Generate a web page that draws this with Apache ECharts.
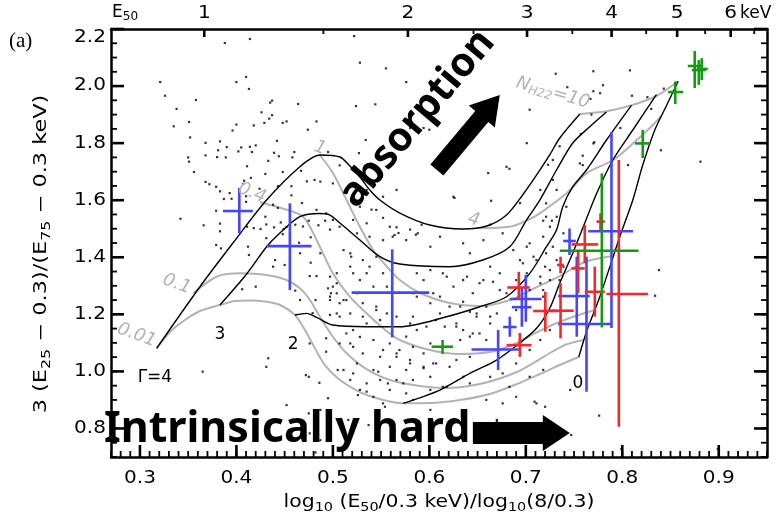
<!DOCTYPE html>
<html>
<head>
<meta charset="utf-8">
<script src="https://cdn.jsdelivr.net/npm/echarts@6/dist/echarts.min.js"></script>
<style>
html,body{margin:0;padding:0;background:#fff;}
#c{width:777px;height:517px;}
</style>
</head>
<body>
<div id="c"></div>
<script>
// Bottom axis: log10(E50/0.3 keV)/log10(8/0.3); left axis: quartile ratio.
const xMajorTicks = [0.3, 0.4, 0.5, 0.6, 0.7, 0.8, 0.9];
const yMajorTicks = [0.8, 1.0, 1.2, 1.4, 1.6, 1.8, 2.0, 2.2];
const keVMajorTicks = [1, 2, 3, 4, 5, 6];
const keVMinorTicks = [1.5, 2.5, 3.5, 4.5, 5.5, 6.5];

// Model grid, constant photon index (black)
const gamma4 = [[0.3173,1.0808],[0.3622,1.2967],[0.3964,1.4499],[0.4313,1.6006],[0.4658,1.7174],[0.4865,1.7584],[0.5073,1.7514],[0.5176,1.7198],[0.528,1.6813],[0.5383,1.6357],[0.5487,1.6006],[0.5694,1.5551],[0.6005,1.513],[0.6347,1.499],[0.6596,1.5095],[0.6803,1.5491],[0.6969,1.6192],[0.7114,1.6893],[0.7249,1.7594],[0.7352,1.8179],[0.756,1.9021]];
const gamma3 = [[0.3829,1.2326],[0.4106,1.3413],[0.4313,1.4369],[0.4451,1.485],[0.4658,1.5421],[0.4865,1.5533],[0.4969,1.5481],[0.5073,1.52],[0.528,1.4604],[0.5487,1.4019],[0.5694,1.3763],[0.6212,1.3669],[0.6554,1.3903],[0.6834,1.4369],[0.7007,1.5305],[0.7145,1.6006],[0.7318,1.7058],[0.7487,1.8004],[0.7663,1.8576],[0.7836,1.9091]];
const gamma2 = [[0.4606,1.1975],[0.4727,1.2035],[0.4831,1.1895],[0.5,1.1625],[0.5349,1.1565],[0.5694,1.1565],[0.6178,1.1916],[0.6523,1.2267],[0.68,1.2617],[0.7041,1.3437],[0.7214,1.4369],[0.7318,1.4955],[0.7383,1.5771],[0.7487,1.6473],[0.7629,1.7058],[0.7836,1.8109],[0.8095,1.9326]];
const gamma1 = [[0.5728,0.8881],[0.6109,0.9347],[0.642,0.9932],[0.6696,1.0398],[0.6938,1.0995],[0.7114,1.152],[0.7249,1.2221],[0.7352,1.3097],[0.7487,1.4149],[0.7611,1.52],[0.7736,1.6252],[0.7902,1.7408],[0.8109,1.846],[0.8354,1.9697]];
const gamma0 = [[0.7549,1.0503],[0.7629,1.139],[0.7767,1.2617],[0.7974,1.472],[0.8109,1.6006],[0.8212,1.7233],[0.8337,1.846],[0.8461,1.9336],[0.8578,2.0167]];

// Model grid, constant column density N_H / 1e22 (grey)
const nh001 = [[0.3173,1.0808],[0.3311,1.138],[0.3466,1.18],[0.3622,1.2116],[0.3829,1.2326],[0.3984,1.2466],[0.414,1.2484],[0.4295,1.2448],[0.4451,1.2326],[0.4606,1.1975],[0.471,1.145],[0.4813,1.082],[0.4917,1.0223],[0.5073,0.9698],[0.528,0.9277],[0.5487,0.9031],[0.5728,0.8881],[0.6005,0.8891],[0.6316,0.8996],[0.6627,0.9207],[0.6907,0.9557],[0.7145,0.9908],[0.7352,1.0223],[0.7549,1.0503]];
const nh01 = [[0.3552,1.2736],[0.3795,1.3318],[0.4036,1.3437],[0.4313,1.3378],[0.452,1.3202],[0.4658,1.2911],[0.4762,1.2501],[0.4865,1.1916],[0.5,1.1215],[0.5142,1.0633],[0.5332,1.0118],[0.5591,0.9698],[0.5902,0.9487],[0.6161,0.9417],[0.6523,0.9557],[0.6907,0.9978],[0.7197,1.0538],[0.7404,1.0925],[0.7601,1.11]];
const nh04 = [[0.4244,1.5936],[0.4417,1.5771],[0.4589,1.5596],[0.4692,1.5421],[0.4762,1.507],[0.4865,1.4369],[0.5,1.3437],[0.5176,1.2617],[0.5349,1.2035],[0.5518,1.152],[0.5694,1.11],[0.6005,1.0749],[0.6316,1.0609],[0.6627,1.0679],[0.6834,1.0889],[0.7041,1.124],[0.7249,1.159],[0.7456,1.187],[0.7715,1.2151]];
const nh1 = [[0.4865,1.7584],[0.5,1.6953],[0.5142,1.6006],[0.528,1.507],[0.5418,1.4254],[0.5591,1.3553],[0.5694,1.3202],[0.5902,1.2747],[0.6212,1.2396],[0.6523,1.2291],[0.6834,1.2501],[0.7093,1.2922],[0.7352,1.3343],[0.7611,1.3833],[0.7902,1.4044]];
const nh4 = [[0.6503,1.5025],[0.6834,1.507],[0.7021,1.5305],[0.7145,1.554],[0.7422,1.6241],[0.7629,1.6942],[0.7905,1.7408],[0.8112,1.7994],[0.8285,1.853],[0.8406,1.8951]];
const nh10 = [[0.756,1.9021],[0.7836,1.9115],[0.8095,1.9326],[0.8354,1.9652],[0.8578,2.0167]];

// Field sources
const fieldSources = [
[0.388,2.151],[0.414,2.165],[0.321,2.014],[0.400,2.014],[0.410,2.032],[0.413,1.990],[0.326,1.966],[0.358,1.951],[0.338,1.920],[0.437,1.949],[0.435,1.942],[0.464,1.937],[0.426,1.908],[0.437,1.898],[0.335,1.859],[0.351,1.874],[0.400,1.865],[0.418,1.862],[0.429,1.871],[0.434,1.886],[0.448,1.871],[0.452,1.876],[0.483,1.876],[0.474,1.847],[0.396,1.844],[0.352,1.820],[0.383,1.806],[0.368,1.801],[0.442,1.808],[0.390,1.786],[0.405,1.785],[0.414,1.787],[0.420,1.792],[0.381,1.775],[0.402,1.771],[0.416,1.769],[0.439,1.766],[0.444,1.754],[0.460,1.769],[0.368,1.757],[0.350,1.750],[0.380,1.751],[0.389,1.750],[0.351,1.735],[0.433,1.738],[0.458,1.750],[0.495,1.769],[0.356,1.699],[0.411,1.719],[0.430,1.692],[0.448,1.699],[0.467,1.703],[0.473,1.666],[0.481,1.671],[0.368,1.664],[0.372,1.656],[0.379,1.647],[0.383,1.631],[0.408,1.668],[0.415,1.678],[0.407,1.657],[0.424,1.640],[0.457,1.649],[0.443,1.649],[0.393,1.625],[0.395,1.605],[0.410,1.594],[0.387,1.604],[0.379,1.563],[0.410,1.614],[0.457,1.617],[0.468,1.590],[0.342,1.535],[0.366,1.512],[0.383,1.518],[0.383,1.491],[0.411,1.507],[0.418,1.502],[0.425,1.499],[0.431,1.515],[0.439,1.505],[0.449,1.499],[0.446,1.522],[0.452,1.506],[0.461,1.514],[0.469,1.508],[0.475,1.528],[0.485,1.512],[0.492,1.528],[0.497,1.497],[0.477,1.470],[0.448,1.481],[0.430,1.542],[0.438,1.584],[0.443,1.573],[0.431,1.467],[0.507,1.722],
[0.522,2.175],[0.528,2.082],[0.555,2.062],[0.524,1.930],[0.544,1.936],
[0.576,2.014],[0.580,1.853],[0.594,1.853],[0.600,1.847],[0.534,1.811],[0.564,1.839],[0.527,1.765],[0.549,1.750],[0.704,1.917],[0.701,1.800],[0.661,1.695],[0.683,1.710],[0.626,1.608],[0.664,1.598],[0.694,1.590],[0.540,1.567],[0.552,1.538],[0.566,1.505],[0.580,1.497],[0.592,1.514],[0.568,1.485],[0.586,1.479],[0.663,1.514],[0.723,1.724],[0.718,1.528],[0.727,1.528],
[0.731,2.043],[0.770,2.052],[0.808,2.055],[0.743,1.996],[0.770,1.982],[0.780,2.003],[0.767,1.955],[0.810,1.966],[0.826,1.961],[0.843,1.991],[0.768,1.900],[0.830,1.920],[0.757,1.832],[0.798,1.853],[0.771,1.803],[0.735,1.789],[0.759,1.756],[0.840,1.775],
[0.881,1.735],[0.838,1.355],[0.834,1.265],[0.776,0.845],[0.747,0.777],[0.720,0.876],[0.799,0.728],[0.899,0.728],[0.759,1.723],[0.806,1.723],
[0.379,1.443],[0.384,1.431],[0.412,1.437],[0.413,1.408],[0.440,1.390],[0.438,1.367],[0.450,1.373],[0.465,1.451],[0.466,1.414],[0.477,1.381],[0.487,1.414],[0.476,1.334],[0.483,1.334],[0.495,1.291],[0.498,1.274],[0.497,1.250],[0.507,1.239],[0.406,1.288],[0.420,1.297],[0.461,1.283],[0.466,1.250],[0.482,1.250],[0.497,1.198],[0.479,1.204],[0.493,1.116],[0.476,1.098],[0.493,1.069],[0.433,1.046],[0.431,1.016],[0.365,0.999],[0.472,0.987],[0.475,0.981],[0.486,0.960],[0.495,0.906],[0.452,0.882],[0.475,0.853],[0.487,0.865],[0.482,0.716],[0.504,1.309],
[0.487,1.665],[0.483,1.566],[0.493,1.554],[0.500,1.531],[0.507,1.507],[0.521,1.531],[0.535,1.519],[0.525,1.484],[0.538,1.472],[0.552,1.460],[0.562,1.472],[0.518,1.414],[0.531,1.390],[0.545,1.402],[0.521,1.344],[0.535,1.344],[0.542,1.297],[0.556,1.297],[0.500,1.297],[0.511,1.250],[0.497,1.262],[0.504,1.203],[0.518,1.203],[0.531,1.192],[0.545,1.227],[0.556,1.203],[0.497,1.332],[0.514,1.133],[0.528,1.121],[0.542,1.110],[0.559,1.098],[0.507,1.098],[0.521,1.086],[0.552,1.075],[0.566,1.063],[0.500,1.659],[0.535,1.636],[0.552,1.612],[0.566,1.636],[0.528,1.577],[0.545,1.566],[0.559,1.507],
[0.511,1.425],[0.519,1.402],[0.564,1.478],[0.576,1.460],[0.588,1.484],[0.601,1.437],[0.611,1.472],[0.635,1.449],[0.642,1.414],[0.656,1.460],[0.676,1.484],[0.687,1.425],[0.704,1.449],[0.711,1.390],[0.720,1.367],[0.697,1.379],[0.538,1.367],[0.552,1.344],[0.587,1.344],[0.601,1.355],[0.618,1.332],[0.635,1.320],[0.652,1.309],[0.666,1.314],[0.673,1.285],[0.528,1.320],[0.504,1.274],[0.514,1.250],[0.531,1.239],[0.545,1.215],[0.587,1.262],[0.601,1.239],[0.611,1.262],[0.621,1.227],[0.635,1.244],[0.642,1.209],[0.649,1.192],[0.659,1.227],[0.663,1.192],[0.670,1.203],[0.507,1.192],[0.521,1.145],[0.535,1.168],[0.549,1.180],[0.566,1.192],[0.580,1.168],[0.587,1.145],[0.576,1.122],[0.597,1.157],[0.607,1.180],[0.616,1.157],[0.628,1.168],[0.635,1.145],[0.642,1.122],[0.652,1.133],[0.659,1.110],[0.632,1.110],[0.518,1.098],[0.569,1.075],[0.583,1.086],[0.594,1.063],[0.601,1.098],[0.580,1.040],[0.566,1.051],[0.549,1.051],[0.531,1.063],[0.525,1.028],[0.542,1.005],[0.559,1.016],[0.576,1.005],[0.594,1.016],[0.607,1.028],[0.628,1.040],[0.642,1.051],[0.621,1.016],[0.635,0.981],[0.601,0.981],[0.583,0.970],[0.566,0.970],[0.549,0.970],[0.535,0.958],[0.559,0.935],[0.576,0.923],[0.601,0.935],[0.618,0.946],[0.642,0.958],[0.663,0.981],[0.676,0.993],[0.690,1.028],[0.704,1.075],[0.715,1.110],[0.725,1.145],[0.683,0.946],[0.704,0.981],[0.718,1.005],[0.676,0.888],[0.690,0.911],[0.711,0.888],[0.670,0.830],[0.552,0.888],[0.542,0.911],[0.528,0.935],[0.518,0.970],[0.505,1.005],[0.504,1.344],[0.518,1.367],[0.525,1.274],[0.715,1.309],[0.725,1.320],[0.718,1.262],[0.704,1.285],[0.690,1.215],
[0.721,1.542],[0.732,1.542],[0.725,1.507],[0.739,1.484],[0.718,1.472],[0.728,1.437],[0.721,1.414],[0.732,1.390],[0.739,1.367],[0.725,1.355],[0.715,1.332],[0.735,1.320],[0.718,1.285],[0.701,1.437],[0.694,1.390],[0.708,1.402],[0.701,1.344],[0.690,1.320],[0.680,1.274],[0.673,1.344],[0.663,1.367],[0.656,1.320],[0.645,1.274],[0.639,1.332],[0.625,1.297],[0.614,1.344],[0.604,1.274],[0.594,1.320],[0.583,1.274],[0.632,1.227],[0.649,1.203],[0.663,1.168],[0.645,1.133],[0.628,1.157],[0.611,1.203],[0.583,1.192],[0.728,1.671],[0.756,1.729],[0.715,1.636],[0.721,1.589],[0.732,1.636],[0.742,1.577],[0.680,1.717],[0.728,1.741],[0.770,1.799],[0.777,1.975],[0.625,1.612],
[0.511,1.005],[0.521,0.993],[0.526,0.917],[0.535,0.929],[0.547,0.999],[0.557,0.958],[0.554,0.876],[0.487,0.759],[0.516,0.830],[0.537,0.812],[0.476,0.783],[0.580,1.028],[0.604,1.028],[0.594,1.011],[0.573,0.958],[0.614,0.946],[0.601,0.865],[0.670,0.824],[0.659,0.900],[0.583,0.900],[0.746,0.935],[0.709,0.894]
];

// Targets with errors: [x, y, xLow, xHigh, yLow, yHigh]
const blueTargets = [
[0.403,1.562,0.386,0.417,1.485,1.643],
[0.4554,1.439,0.4313,0.4779,1.285,1.589],
[0.5615,1.276,0.5194,0.5998,1.119,1.428],
[0.6713,1.077,0.6437,0.6938,1.005,1.145],
[0.6834,1.1555,0.6765,0.6904,1.1215,1.1916],
[0.6959,1.225,0.6855,0.7059,1.1565,1.292],
[0.70,1.254,0.6834,0.7163,1.174,1.338],
[0.7453,1.457,0.7387,0.7518,1.408,1.501],
[0.7528,1.264,0.7335,0.7663,1.1215,1.402],
[0.7629,1.166,0.7335,0.7888,0.9287,1.402],
[0.7888,1.491,0.7646,0.8112,1.152,1.839]
];
const redTargets = [
[0.6927,1.294,0.6808,0.7041,1.25,1.349],
[0.7202,1.2116,0.7076,0.7332,1.139,1.279],
[0.736,1.2127,0.7228,0.7497,1.116,1.309],
[0.6938,1.092,0.68,0.7059,1.051,1.1345],
[0.736,1.373,0.7324,0.7394,1.344,1.402],
[0.7542,1.361,0.7474,0.7611,1.274,1.425],
[0.7611,1.445,0.7474,0.7749,1.379,1.513],
[0.7774,1.525,0.7733,0.7819,1.4955,1.554],
[0.7715,1.279,0.7611,0.7819,1.1916,1.367],
[0.7964,1.271,0.7836,0.8267,0.806,1.741]
];
const greenTargets = [
[0.6137,1.0864,0.6023,0.6247,1.061,1.11],
[0.7788,1.423,0.7352,0.8168,1.154,1.694],
[0.8212,1.799,0.813,0.8285,1.748,1.846],
[0.8549,1.979,0.8475,0.863,1.937,2.016],
[0.8751,2.0703,0.8679,0.8834,1.993,2.123],
[0.8793,2.056,0.872,0.8865,2.004,2.091],
[0.8824,2.06,0.8772,0.8886,2.021,2.098]
];

const FONT = '"DejaVu Sans"';
const INK = '#000';
const GREY = '#b3b3b3';
const WIDE = 1.18;            // horizontal stretch of the axis lettering
const E_LO = 0.3, E_HI = 8.0;
const toAxis = e => Math.log10(e / E_LO) / Math.log10(E_HI / E_LO);
const fromAxis = v => E_LO * Math.pow(E_HI / E_LO, v);

const X_MIN = 0.27, X_MAX = 0.95, Y_MIN = 0.7, Y_MAX = 2.2;
const xMinor = [], yMinor = [];
for (let i = 27; i <= 95; i++) xMinor.push(+(i / 100).toFixed(2));
for (let i = 14; i <= 44; i++) yMinor.push(+(i * 0.05).toFixed(2));

// Tick sets: [values, side, length, thickness]
const tickSets = [
  [xMajorTicks, 'bottom', 12, 2.6], [xMinor, 'bottom', 6, 1.8],
  [keVMajorTicks.map(toAxis), 'top', 8, 2.6], [keVMinorTicks.map(toAxis), 'top', 5, 1.8],
  [yMajorTicks, 'left', 13, 2.6], [yMinor, 'left', 6, 1.8],
  [yMajorTicks, 'right', 13, 2.6], [yMinor, 'right', 6, 1.8]
];

// Text placed on the grid
const gridNotes = [
  { t: 'Γ=4', at: [0.3155, 0.977], kind: 'ink' },
  { t: '3', at: [0.3829, 1.1274], kind: 'ink' },
  { t: '2', at: [0.4589, 1.0924], kind: 'ink' },
  { t: '0', at: [0.7539, 0.9557], kind: 'ink' },
  { t: '0.01', at: [0.2965, 1.127], kind: 'grey', rot: -20 },
  { t: '0.1', at: [0.3383, 1.3062], kind: 'grey', rot: -20 },
  { t: '0.4', at: [0.4161, 1.6252], kind: 'grey', rot: -22 },
  { t: '1', at: [0.4865, 1.7829], kind: 'grey', rot: -20 },
  { t: '4', at: [0.6461, 1.5305], kind: 'grey', rot: -15 },
  { t: 'N{s|H22}=10', at: [0.728, 1.9757], kind: 'grey', rot: -16 },
  { t: 'absorption', at: [0.5875, 1.886], kind: 'big', rot: 50 },
  { t: 'Intrinsically hard', at: [0.2627, 0.7945], kind: 'bigLeft' }
];
const arrows = [
  { from: [0.6078, 1.7058], to: [0.673, 1.9687], shaft: 17, head: 34, headLen: 28 },
  { from: [0.6451, 0.784], to: [0.7456, 0.784], shaft: 22, head: 36, headLen: 27 }
];

function lineSeries(name, data, color, width, z) {
  return {
    name, type: 'line', data, xAxisIndex: 0, yAxisIndex: 0,
    showSymbol: false, symbol: 'none', smooth: 0.3, z,
    lineStyle: { color, width }, silent: true, animation: false
  };
}

function crossSeries(name, data, color) {
  return {
    name, type: 'custom', data, xAxisIndex: 0, yAxisIndex: 0, z: 6,
    encode: { x: [0, 2, 3], y: [1, 4, 5] },
    renderItem: (params, api) => {
      const x = api.value(0), y = api.value(1);
      const l = api.coord([api.value(2), y]);
      const r = api.coord([api.value(3), y]);
      const b = api.coord([x, api.value(4)]);
      const t = api.coord([x, api.value(5)]);
      const st = { stroke: color, lineWidth: 2.6 };
      return {
        type: 'group', children: [
          { type: 'line', shape: { x1: l[0], y1: l[1], x2: r[0], y2: r[1] }, style: st },
          { type: 'line', shape: { x1: b[0], y1: b[1], x2: t[0], y2: t[1] }, style: st }
        ]
      };
    }
  };
}

// Inward frame ticks of one set, as bar-shaped scatter symbols sitting on the frame
function tickSeries([values, side, len, th]) {
  const horiz = side === 'bottom' || side === 'top';
  const data = values.map(v => horiz ? [v, side === 'bottom' ? Y_MIN : Y_MAX] : [side === 'left' ? X_MIN : X_MAX, v]);
  let size, offset;
  if (side === 'bottom') { size = [th, len]; offset = [0, -len / 2]; }
  else if (side === 'top') { size = [th, len]; offset = [0, len / 2]; }
  else if (side === 'left') { size = [len, th]; offset = [len / 2, 0]; }
  else { size = [len, th]; offset = [-len / 2, 0]; }
  return {
    type: 'scatter', data, xAxisIndex: 0, yAxisIndex: 0, z: 12, clip: false, silent: true,
    symbol: 'rect', symbolSize: size, symbolOffset: offset, itemStyle: { color: INK, opacity: 1 }
  };
}

// Tick labels along one frame side
function labelSeries(values, side, fmt) {
  return {
    type: 'custom', xAxisIndex: 0, yAxisIndex: 0, z: 10, silent: true, clip: false,
    data: values.map(v => [v]),
    renderItem: (params, api) => {
      const v = api.value(0);
      let x, y, align = 'center';
      if (side === 'bottom') { const p = api.coord([v, Y_MIN]); x = p[0]; y = p[1] + 22; }
      else if (side === 'top') { const p = api.coord([v, Y_MAX]); x = p[0]; y = p[1] - 15; }
      else {
        const p = api.coord([X_MIN, v]); x = p[0] - 5; y = p[1]; align = 'right';
        if (v >= Y_MAX - 0.01) y += 9;
      }
      return { type: 'text', x, y, scaleX: WIDE,
        style: { text: fmt(v), fill: INK, font: '17px ' + FONT, align, verticalAlign: 'middle' } };
    }
  };
}

const subStyle = { s: { fill: INK, font: '12px ' + FONT, verticalAlign: 'bottom', padding: [9, 0, 0, 0] } };
const axisTitles = [
  { t: 'log{s|10} (E{s|50}/0.3 keV)/log{s|10}(8/0.3)', at: [(X_MIN + X_MAX) / 2, Y_MIN], dx: 0, dy: 46, rot: 0, sx: 1.2 },
  { t: '3 (E{s|25} − 0.3)/(E{s|75} − 0.3 keV)', at: [X_MIN, (Y_MIN + Y_MAX) / 2], dx: -69, dy: 11, rot: 90, sx: 1.32 }
];

const chart = echarts.init(document.getElementById('c'));

const frameAxis = (position, min, max) => ({
  type: 'value', min, max, position, gridIndex: 0, splitLine: { show: false },
  axisLine: { show: true, onZero: false, lineStyle: { color: INK, width: 2.5 } },
  axisTick: { show: false }, axisLabel: { show: false }
});

chart.setOption({
  animation: false,
  backgroundColor: '#fff',
  textStyle: { fontFamily: FONT },
  grid: { left: 111, top: 29, width: 656, height: 428, containLabel: false },
  xAxis: [frameAxis('bottom', X_MIN, X_MAX), frameAxis('top', X_MIN, X_MAX)],
  yAxis: [frameAxis('left', Y_MIN, Y_MAX), frameAxis('right', Y_MIN, Y_MAX)],
  series: [
    lineSeries('NH 0.01', nh001, GREY, 2, 2),
    lineSeries('NH 0.1', nh01, GREY, 2, 2),
    lineSeries('NH 0.4', nh04, GREY, 2, 2),
    lineSeries('NH 1', nh1, GREY, 2, 2),
    lineSeries('NH 4', nh4, GREY, 2, 2),
    lineSeries('NH 10', nh10, GREY, 2, 2),
    lineSeries('Gamma 4', gamma4, INK, 1.4, 3),
    lineSeries('Gamma 3', gamma3, INK, 1.4, 3),
    lineSeries('Gamma 2', gamma2, INK, 1.4, 3),
    lineSeries('Gamma 1', gamma1, INK, 1.4, 3),
    lineSeries('Gamma 0', gamma0, INK, 1.4, 3),
    {
      name: 'field', type: 'scatter', data: fieldSources, xAxisIndex: 0, yAxisIndex: 0,
      symbol: 'rect', symbolSize: 2.2, itemStyle: { color: INK }, z: 4, silent: true
    },
    crossSeries('blue', blueTargets, '#4646f5'),
    crossSeries('red', redTargets, '#f02a2a'),
    crossSeries('green', greenTargets, '#139a13'),
    ...tickSets.map(tickSeries),
    labelSeries(xMajorTicks, 'bottom', v => v.toFixed(1)),
    labelSeries(yMajorTicks, 'left', v => v.toFixed(1)),
    labelSeries(keVMajorTicks.map(toAxis), 'top', v => String(Math.round(fromAxis(v)))),
    {
      name: 'titles', type: 'custom', xAxisIndex: 0, yAxisIndex: 0, z: 10, silent: true, clip: false,
      data: axisTitles.map(a => a.at),
      renderItem: (params, api) => {
        const a = axisTitles[params.dataIndex];
        const p = api.coord([api.value(0), api.value(1)]);
        return { type: 'text', x: p[0] + a.dx, y: p[1] + a.dy, rotation: a.rot * Math.PI / 180, scaleX: a.sx,
          style: { text: a.t, fill: INK, font: '17px ' + FONT, align: 'center', verticalAlign: 'middle', rich: subStyle } };
      }
    },
    {
      name: 'arrows', type: 'custom', xAxisIndex: 0, yAxisIndex: 0, z: 8, silent: true,
      data: arrows.map(a => [a.from[0], a.from[1], a.to[0], a.to[1]]),
      renderItem: (params, api) => {
        const a = arrows[params.dataIndex];
        const p = api.coord([api.value(0), api.value(1)]);
        const q = api.coord([api.value(2), api.value(3)]);
        const dx = q[0] - p[0], dy = q[1] - p[1], L = Math.hypot(dx, dy);
        const ux = dx / L, uy = dy / L, nx = -uy, ny = ux;
        const bx = q[0] - ux * a.headLen, by = q[1] - uy * a.headLen;
        const s = a.shaft / 2, h = a.head / 2;
        return {
          type: 'polygon', shape: { points: [
            [p[0] + nx * s, p[1] + ny * s], [bx + nx * s, by + ny * s], [bx + nx * h, by + ny * h],
            [q[0], q[1]], [bx - nx * h, by - ny * h], [bx - nx * s, by - ny * s], [p[0] - nx * s, p[1] - ny * s]
          ] }, style: { fill: INK }
        };
      }
    },
    {
      name: 'notes', type: 'custom', xAxisIndex: 0, yAxisIndex: 0, z: 9, silent: true, clip: false,
      data: gridNotes.map(n => n.at),
      renderItem: (params, api) => {
        const n = gridNotes[params.dataIndex];
        const p = api.coord([api.value(0), api.value(1)]);
        let style;
        if (n.kind === 'ink') {
          style = { text: n.t, fill: INK, font: '17px ' + FONT, align: 'center', verticalAlign: 'middle' };
        } else if (n.kind === 'grey') {
          style = { text: n.t, fill: GREY, font: 'italic 18px ' + FONT, align: 'center', verticalAlign: 'middle',
            rich: { s: { fill: GREY, font: 'italic 12px ' + FONT, verticalAlign: 'bottom', padding: [8, 0, 0, 0] } } };
        } else if (n.kind === 'big') {
          style = { text: n.t, fill: INK, font: 'bold 40px "Noto Sans"', align: 'center', verticalAlign: 'middle' };
        } else {
          style = { text: n.t, fill: INK, font: 'bold 43px "Noto Sans"', align: 'left', verticalAlign: 'middle' };
        }
        return { type: 'text', x: p[0], y: p[1], rotation: (n.rot || 0) * Math.PI / 180, style };
      }
    }
  ],
  graphic: [
    { type: 'text', left: 9, top: 31, style: { text: '(a)', font: '21px "Liberation Serif"', fill: INK } },
    { type: 'text', left: 112, top: 4, style: { text: 'E{s|50}', font: '17px ' + FONT, fill: INK,
      rich: { s: { font: '12px ' + FONT, fill: INK, verticalAlign: 'bottom', padding: [8, 0, 0, 0] } } } },
    { type: 'text', left: 740, top: 5, style: { text: 'keV', font: '17px ' + FONT, fill: INK } }
  ]
});
</script>
</body>
</html>
